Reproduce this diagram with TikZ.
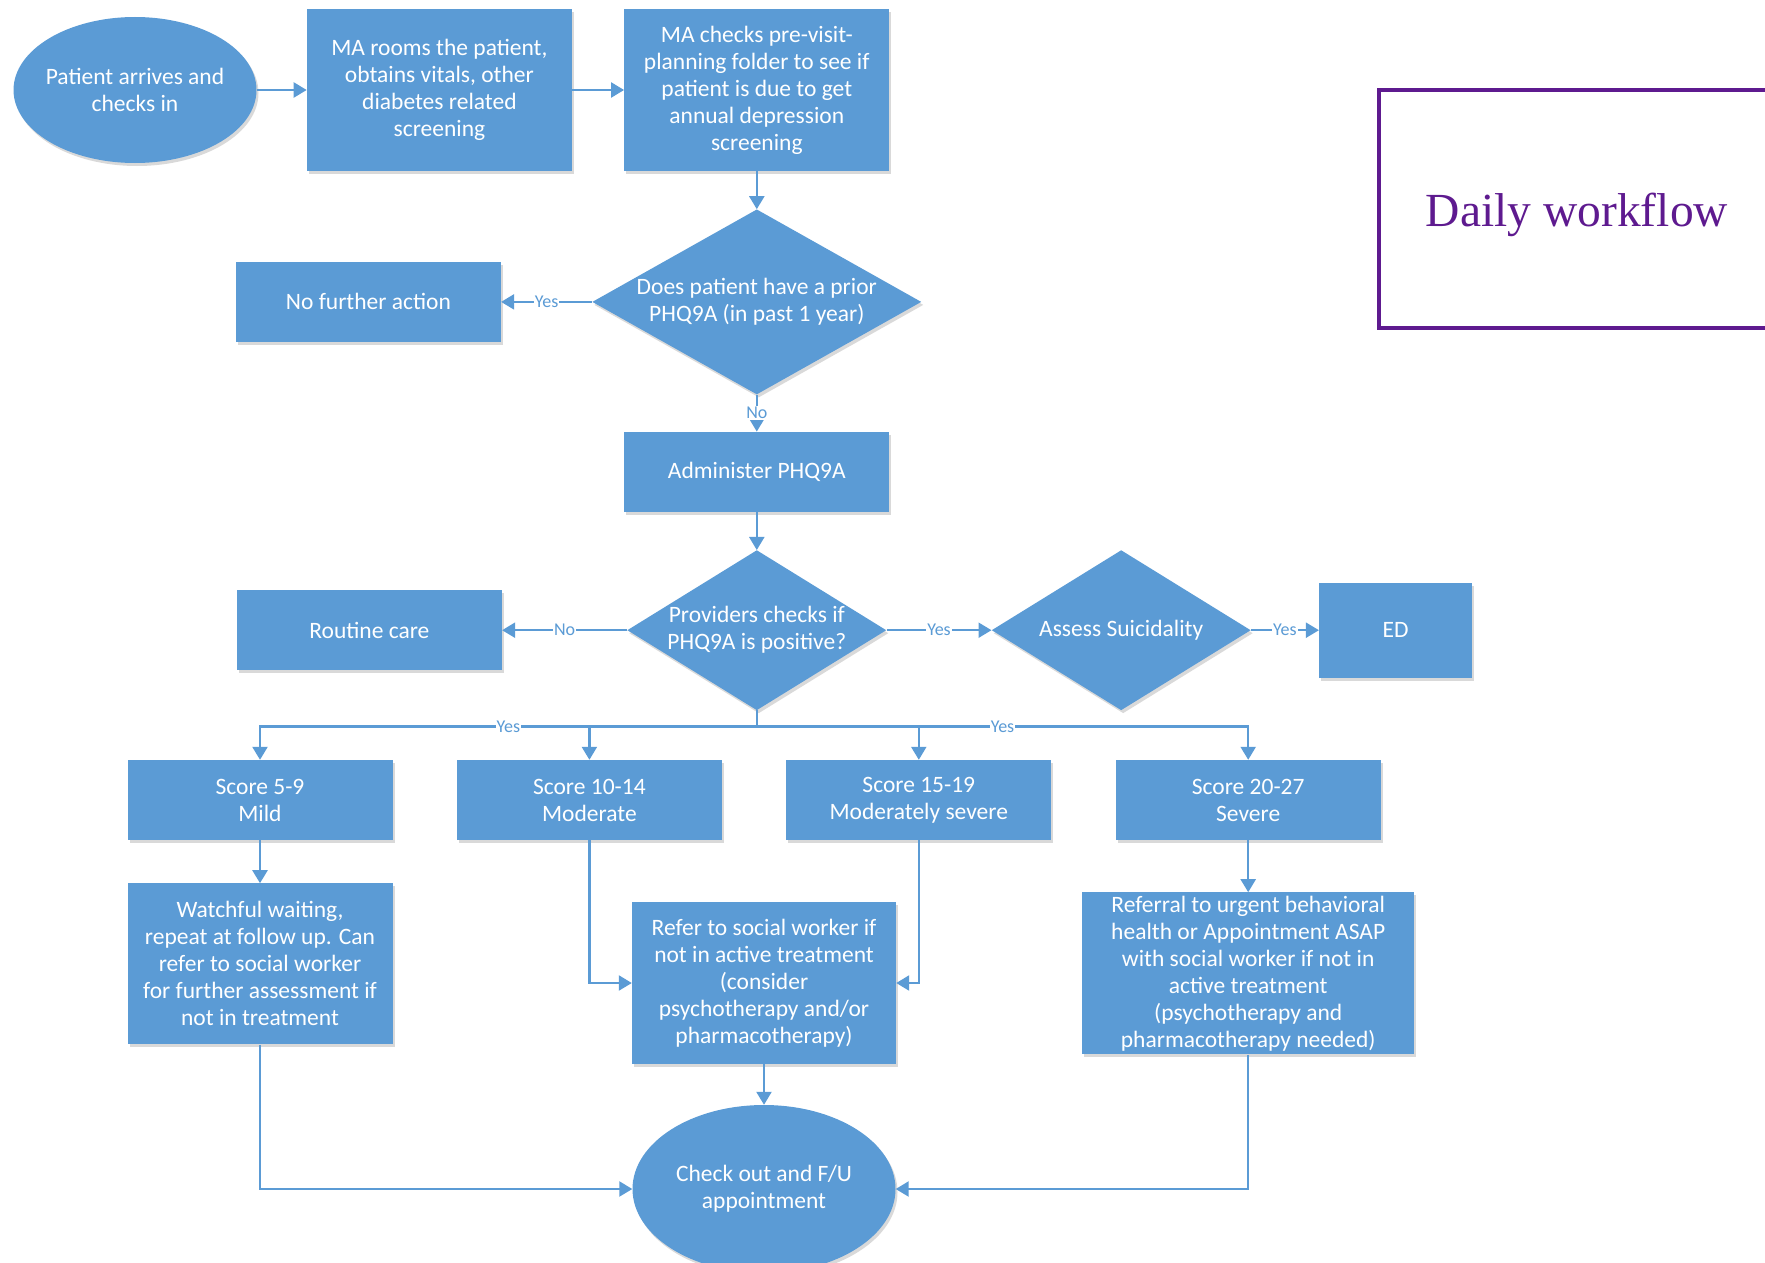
\documentclass[tikz,border=0pt]{standalone}
\usepackage{fontspec}
\setsansfont{Carlito}
\newfontfamily\titlefont{Liberation Serif}
\usetikzlibrary{arrows.meta,positioning,shapes.geometric,shadows}
\definecolor{stepblue}{HTML}{5B9BD5}
\definecolor{lineblue}{HTML}{5B9BD5}
\definecolor{titlepurple}{HTML}{5E1A8F}

\begin{document}
\begin{tikzpicture}[
  x=1pt,y=-1pt,
  >={Triangle[length=13pt,width=15pt]},
  soft/.style={drop shadow={shadow xshift=2pt,shadow yshift=-3pt,fill=black,opacity=0.15}},
  box/.style={rectangle,fill=stepblue,soft,minimum width=265pt,minimum height=80pt,
    text=white,align=center,inner sep=2pt,font=\sffamily\fontsize{23.5}{27}\selectfont},
  terminal/.style={ellipse,fill=stepblue,soft,text=white,align=center,inner sep=-10pt,
    font=\sffamily\fontsize{23.5}{27}\selectfont},
  decision/.style={diamond,fill=stepblue,soft,text=white,align=center,inner sep=-10pt,
    font=\sffamily\fontsize{23.5}{27}\selectfont},
  flow/.style={->,line width=2.2pt,color=lineblue},
  tag/.style={fill=white,text=lineblue,inner sep=1pt,font=\sffamily\fontsize{18}{18}\selectfont}
]
\useasboundingbox (0,0) rectangle (1765,1263);
\clip (0,0) rectangle (1765,1263);

\node[terminal,minimum width=243pt,minimum height=146pt] (arrive) at (135,90)
  {Patient arrives and\\checks in};
\node[box,minimum height=162pt,right=50pt of arrive] (rooms)
  {MA rooms the patient,\\obtains vitals, other\\diabetes related\\screening};
\node[box,minimum height=162pt,right=52pt of rooms] (plan)
  {MA checks pre-visit-\\planning folder to see if\\patient is due to get\\annual depression\\screening};
\node[decision,minimum width=329pt,minimum height=185pt,aspect=1.78,below=38pt of plan] (prior)
  {Does patient have a prior\\PHQ9A (in past 1 year)};
\node[box,left=91pt of prior] (noact) {No further action};
\node[box,below=37pt of prior] (admin) {Administer PHQ9A};
\node[decision,minimum width=259pt,minimum height=160pt,aspect=1.62,below=38pt of admin] (positive)
  {Providers checks if\\PHQ9A is positive?};
\node[box,left=125pt of positive] (routine) {Routine care};
\node[decision,minimum width=259pt,minimum height=160pt,aspect=1.62,right=105pt of positive] (suicid)
  {Assess Suicidality};
\node[box,minimum width=153pt,minimum height=95pt,right=68pt of suicid] (ed) {ED};

\node[box] (mild) at (260,800) {Score 5-9\\Mild};
\node[box,right=64pt of mild] (moderate) {Score 10-14\\Moderate};
\node[box,right=64pt of moderate] (modsev) {Score 15-19\\Moderately severe};
\node[box,right=64pt of modsev] (severe) {Score 20-27\\Severe};

\node[box,minimum height=161pt,below=43pt of mild] (watch)
  {Watchful waiting,\\repeat at follow up. Can\\refer to social worker\\for further assessment if\\not in treatment};
\node[box,minimum width=264pt,minimum height=162pt] (refer) at (764,983)
  {Refer to social worker if\\not in active treatment\\(consider\\psychotherapy and/or\\pharmacotherapy)};
\node[box,minimum width=332pt,minimum height=162pt,below=52pt of severe] (urgent)
  {Referral to urgent behavioral\\health or Appointment ASAP\\with social worker if not in\\active treatment\\(psychotherapy and\\pharmacotherapy needed)};
\node[terminal,minimum width=263pt,minimum height=168pt] (checkout) at (764,1189)
  {Check out and F/U\\appointment};

\node[draw=titlepurple,line width=4pt,minimum width=396pt,minimum height=238pt,text=titlepurple,
  text height=44pt,text depth=10pt,font=\titlefont\fontsize{47.5}{50}\selectfont] (title)
  at (1577,209) {Daily workflow};

\draw[flow] (arrive) -- (rooms);
\draw[flow] (rooms) -- (plan);
\draw[flow] (plan) -- (prior);
\draw[flow] (prior) -- node[tag]{Yes} (noact);
\draw[flow] (prior) -- node[tag]{No} (admin);
\draw[flow] (admin) -- (positive);
\draw[flow] (positive) -- node[tag]{No} (routine);
\draw[flow] (positive) -- node[tag]{Yes} (suicid);
\draw[flow] (suicid) -- node[tag]{Yes} (ed);
\path (positive.south) ++(0,16) coordinate (fork);
\draw[flow] (positive.south) -- (fork) -| node[tag,pos=0.25]{Yes} (mild);
\draw[flow] (fork) -| (moderate);
\draw[flow] (fork) -| (modsev);
\draw[flow] (fork) -| node[tag,pos=0.25]{Yes} (severe);
\draw[flow] (mild) -- (watch);
\draw[flow] (severe) -- (urgent);
\draw[flow] (moderate) |- (refer);
\draw[flow] (modsev) |- (refer);
\draw[flow] (refer) -- (checkout);
\draw[flow] (watch) |- (checkout);
\draw[flow] (urgent) |- (checkout);
\end{tikzpicture}
\end{document}
